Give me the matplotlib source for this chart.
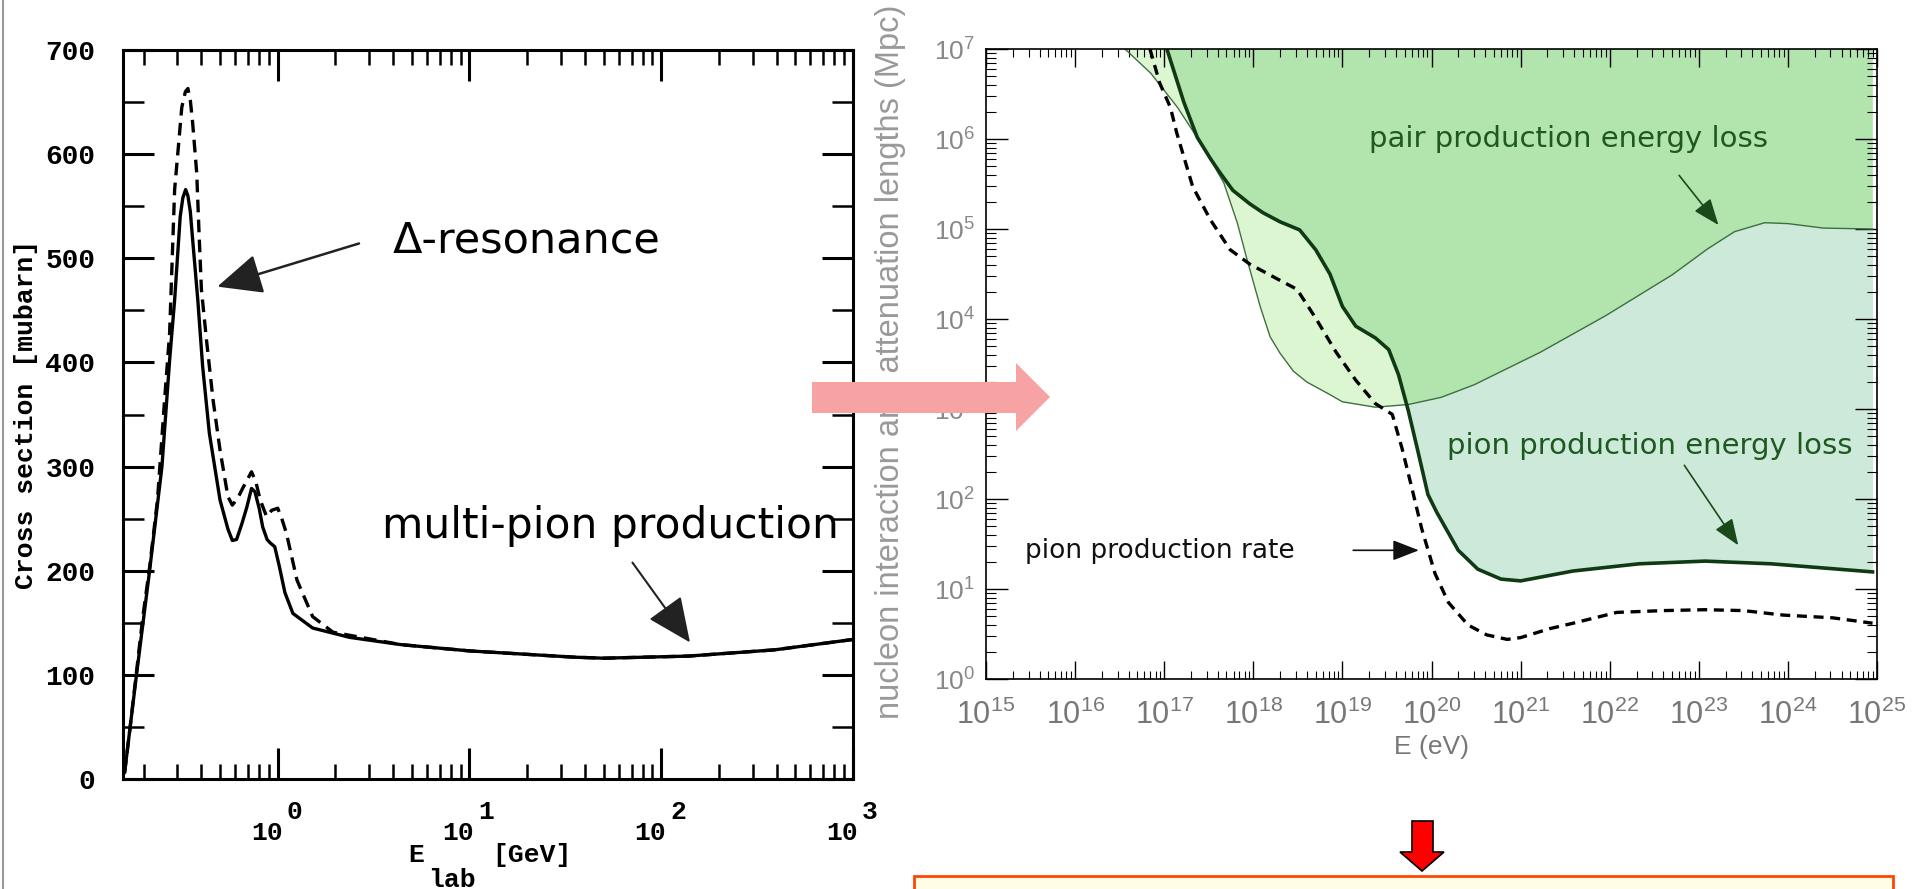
import numpy as np
import matplotlib
matplotlib.use("Agg")
import matplotlib.pyplot as plt
from matplotlib.ticker import FixedLocator, MultipleLocator, LogLocator, NullFormatter, FuncFormatter
from matplotlib.patches import Polygon, Rectangle, FancyArrowPatch
from matplotlib.transforms import blended_transform_factory, offset_copy
from matplotlib.lines import Line2D

plt.rcParams['mathtext.fontset'] = 'custom'
plt.rcParams['mathtext.rm'] = 'Liberation Sans'

# --- left panel: photo-pion cross section ---
solid_E = [0.159, 0.184, 0.215, 0.249, 0.273, 0.29, 0.31, 0.32, 0.331, 0.34, 0.35, 0.36, 0.383,
           0.406, 0.44, 0.50, 0.55, 0.58, 0.61, 0.65, 0.69, 0.73, 0.76, 0.80, 0.835,
           0.88, 0.91, 0.965, 1.02, 1.09, 1.2, 1.52, 2.37, 4.4, 10, 35, 50, 138, 390, 1000]
solid_sigma = [6, 102, 201, 300, 402, 460, 540, 558, 566, 560, 545, 518, 460,
               396, 332, 268, 240, 229, 230, 245, 261, 279, 276, 260, 242,
               230, 227, 223, 204, 179, 159, 145, 136, 129, 123, 117, 116, 118, 124, 134]

dashed_E = [0.159, 0.17, 0.198, 0.215, 0.236, 0.257, 0.273, 0.28, 0.29, 0.30, 0.316,
            0.33, 0.34, 0.35, 0.36, 0.378, 0.39, 0.40, 0.426, 0.46, 0.50, 0.55, 0.58, 0.62, 0.66,
            0.73, 0.77, 0.81, 0.875, 0.93, 1.0, 1.05, 1.11, 1.26, 1.52, 1.94, 2.37,
            4.4, 10, 35, 50, 138, 390, 1000]
dashed_sigma = [6, 50, 156, 204, 268, 364, 428, 486, 566, 597, 645,
                660, 663, 652, 630, 582, 518, 470, 420, 364, 316, 271, 263, 270, 280,
                295, 285, 268, 252, 258, 260, 250, 236, 191, 156, 141, 138,
                129, 123, 117, 116, 118, 124, 134]

left_yticks = [0, 100, 200, 300, 400, 500, 600, 700]
left_xticks = [1, 10, 100, 1000]
left_xexp = ['0', '1', '2', '3']

# --- right panel: attenuation lengths (log10 values) ---
pair_logE = [16.56, 16.85, 17.15, 17.44, 17.67, 17.82, 17.93, 18.08, 18.19, 18.30, 18.45,
             18.60, 18.86, 19.0, 19.37, 19.74, 20.11, 20.48, 21.22, 21.96, 22.70, 23.10,
             23.40, 23.74, 24.0, 24.4, 24.95]
pair_logL = [7.0, 6.73, 6.35, 5.91, 5.51, 5.07, 4.66, 4.13, 3.80, 3.62, 3.42,
             3.30, 3.16, 3.08, 3.02, 3.05, 3.13, 3.27, 3.63, 4.04, 4.49, 4.78,
             4.97, 5.07, 5.06, 5.01, 5.0]

pion_logE = [17.03, 17.22, 17.37, 17.52, 17.63, 17.77, 17.96, 18.11, 18.30, 18.52, 18.70,
             18.86, 19.0, 19.15, 19.37, 19.52, 19.63, 19.74, 19.85, 19.96, 20.06, 20.30,
             20.52, 20.78, 21.0, 21.59, 22.33, 23.07, 23.81, 24.95]
pion_logL = [7.0, 6.41, 6.02, 5.78, 5.62, 5.43, 5.28, 5.18, 5.08, 4.99, 4.77,
             4.50, 4.14, 3.92, 3.79, 3.66, 3.38, 2.98, 2.52, 2.05, 1.85, 1.43,
             1.22, 1.11, 1.09, 1.20, 1.28, 1.31, 1.28, 1.19]

rate_logE = [16.84, 16.95, 17.07, 17.14, 17.32, 17.52, 17.74, 17.96, 18.26, 18.49, 18.70,
             18.93, 19.15, 19.37, 19.56, 19.67, 19.78, 19.89, 20.04, 20.19, 20.41, 20.62,
             20.85, 21.0, 21.33, 21.59, 22.08, 22.6, 23.07, 23.5, 23.95, 24.5, 24.95]
rate_logL = [7.0, 6.62, 6.35, 6.07, 5.47, 5.10, 4.77, 4.61, 4.45, 4.33, 4.01,
             3.63, 3.32, 3.06, 2.94, 2.56, 2.12, 1.67, 1.17, 0.85, 0.60, 0.49,
             0.44, 0.46, 0.56, 0.62, 0.74, 0.76, 0.77, 0.76, 0.71, 0.68, 0.62]

W, H = 1917, 889
fig = plt.figure(figsize=(W / 100, H / 100), dpi=100)
fig.patch.set_facecolor('white')


def px_rect(x0, y0, x1, y1):
    return [x0 / W, 1 - y1 / H, (x1 - x0) / W, (y1 - y0) / H]


def arrow(ax, tail, head, color, lw, scale, hl=1.0, hw=0.45):
    ax.add_patch(FancyArrowPatch(tail, head, transform=ax.transData,
                                 arrowstyle='-|>,head_length=%g,head_width=%g' % (hl, hw),
                                 mutation_scale=scale, color=color, lw=lw, zorder=6))


mono = {'family': 'Liberation Mono', 'weight': 'bold'}

# ---------------- left panel ----------------
ax1 = fig.add_axes(px_rect(123, 50, 853, 779))
ax1.plot(solid_E, solid_sigma, color='black', lw=2.4, solid_capstyle='round')
ax1.plot(dashed_E, dashed_sigma, color='black', lw=2.4, ls=(0, (3.8, 2.2)))
ax1.set_xscale('log')
ax1.set_xlim(0.156, 1000)
ax1.set_ylim(0, 700)
ax1.yaxis.set_major_locator(FixedLocator(left_yticks))
ax1.yaxis.set_minor_locator(MultipleLocator(50))
ax1.xaxis.set_major_locator(FixedLocator(left_xticks))
ax1.xaxis.set_minor_locator(LogLocator(base=10, subs=np.arange(2, 10), numticks=20))
ax1.xaxis.set_major_formatter(NullFormatter())
ax1.xaxis.set_minor_formatter(NullFormatter())
for s in ax1.spines.values():
    s.set_linewidth(2.2)
ax1.tick_params(axis='y', which='major', direction='in', length=22, width=2.2,
                left=True, right=True, pad=20)
ax1.tick_params(axis='y', which='minor', direction='in', length=15, width=1.8,
                left=True, right=True)
ax1.tick_params(axis='x', which='major', direction='in', length=22, width=2.2,
                bottom=True, top=True)
ax1.tick_params(axis='x', which='minor', direction='in', length=11, width=1.8,
                bottom=True, top=True)
for lab in ax1.get_yticklabels():
    lab.set_fontfamily('Liberation Mono')
    lab.set_fontweight('bold')
    lab.set_fontsize(20)
ax1.set_ylabel('Cross section [mubarn]', fontdict=mono, fontsize=19, labelpad=5)

trans = blended_transform_factory(ax1.transData, ax1.transAxes)
for xv, ex in zip(left_xticks, left_xexp):
    ax1.text(xv, -0.074, '10', transform=offset_copy(trans, fig, x=-11, y=0, units='dots'),
             ha='center', va='center', fontdict=mono, fontsize=19)
    ax1.text(xv, -0.045, ex, transform=offset_copy(trans, fig, x=17, y=0, units='dots'),
             ha='center', va='center', fontdict=mono, fontsize=19)
fig.text(416 / W, 1 - 855 / H, 'E', fontdict=mono, fontsize=19, ha='center', va='center')
fig.text(532 / W, 1 - 855 / H, '[GeV]', fontdict=mono, fontsize=19, ha='center', va='center')
fig.text(452 / W, 1 - 880 / H, 'lab', fontdict=mono, fontsize=19, ha='center', va='center')

ax1.text(3.98, 517, '\u0394-resonance', fontsize=31, family='DejaVu Sans', va='center', ha='left')
arrow(ax1, (2.74, 515), (0.469, 472), '#222222', 1.8, 28)
ax1.text(3.49, 243, 'multi-pion production', fontsize=30.5, family='DejaVu Sans',
         va='center', ha='left')
arrow(ax1, (69.4, 210), (144, 129), '#222222', 1.5, 28)

# ---------------- right panel ----------------
ax2 = fig.add_axes(px_rect(986, 49, 1877, 679))
pE = 10 ** np.array(pair_logE)
pL = 10 ** np.array(pair_logL)
sE = 10 ** np.array(pion_logE)
sL = 10 ** np.array(pion_logL)
rE = 10 ** np.array(rate_logE)
rL = 10 ** np.array(rate_logL)

ax2.fill_between(pE, pL, 1e7, color='#ddf6d2', lw=0, zorder=1)
ax2.fill_between(sE, sL, 1e7, color='#cce9da', lw=0, zorder=1.1)
both = ax2.fill_between(pE, pL, 1e7, color='#b2e4ae', lw=0, zorder=1.2)
clip = ax2.fill_between(sE, sL, 1e7, color='none', lw=0)
both.set_clip_path(clip.get_paths()[0], ax2.transData)

ax2.plot(pE, pL, color='#3f6f3f', lw=1.0, zorder=3)
ax2.plot(sE, sL, color='#103a14', lw=2.6, zorder=3)
ax2.plot(rE, rL, color='black', lw=2.4, ls=(0, (3.0, 2.0)), zorder=3)

ax2.set_xscale('log')
ax2.set_yscale('log')
ax2.set_xlim(1e15, 1e25)
ax2.set_ylim(1, 1e7)
ax2.xaxis.set_major_locator(LogLocator(base=10, numticks=20))
ax2.yaxis.set_major_locator(LogLocator(base=10, numticks=20))
ax2.xaxis.set_minor_locator(LogLocator(base=10, subs=np.arange(2, 10), numticks=200))
ax2.yaxis.set_minor_locator(LogLocator(base=10, subs=np.arange(2, 10), numticks=200))
ax2.xaxis.set_minor_formatter(NullFormatter())
ax2.yaxis.set_minor_formatter(NullFormatter())
fmt = FuncFormatter(lambda v, p: r'$\mathrm{10}^{\mathrm{%d}}$' % round(np.log10(v)))
ax2.xaxis.set_major_formatter(fmt)
ax2.yaxis.set_major_formatter(fmt)
for s in ax2.spines.values():
    s.set_linewidth(1.2)
    s.set_zorder(5)
ax2.tick_params(axis='x', which='major', direction='in', length=13, width=1.0,
                top=True, bottom=True, labelsize=22, labelcolor='#777777', pad=14)
ax2.tick_params(axis='x', which='minor', direction='in', length=6, width=0.8,
                top=True, bottom=True)
ax2.tick_params(axis='y', which='major', direction='in', length=16, width=1.0,
                left=True, right=True, labelsize=19, labelcolor='#888888', pad=8)
ax2.tick_params(axis='y', which='minor', direction='in', length=7, width=0.8,
                left=True, right=True)
ax2.set_axisbelow(False)
ax2.set_xlabel('E (eV)', fontsize=19, color='#777777', family='Liberation Sans', labelpad=4)
fig.text(890 / W, 1 - 362 / H, 'nucleon interaction and attenuation lengths (Mpc)',
         rotation=90, ha='center', va='center', fontsize=23.5, color='#999999',
         family='Liberation Sans')

green_txt = '#1e5a20'
ax2.text(10 ** 19.30, 10 ** 6.0, 'pair production energy loss', fontsize=21,
         family='DejaVu Sans', color=green_txt, va='center', ha='left', zorder=6)
arrow(ax2, (10 ** 22.76, 10 ** 5.62), (10 ** 23.24, 10 ** 5.02), '#1a4a1a', 1.2, 18, 0.9, 0.35)
ax2.text(10 ** 20.17, 10 ** 2.59, 'pion production energy loss', fontsize=21,
         family='DejaVu Sans', color=green_txt, va='center', ha='left', zorder=6)
arrow(ax2, (10 ** 22.82, 10 ** 2.4), (10 ** 23.46, 10 ** 1.46), '#1a4a1a', 1.2, 18, 0.9, 0.35)
ax2.text(10 ** 15.44, 10 ** 1.42, 'pion production rate', fontsize=19,
         family='DejaVu Sans', color='#111111', va='center', ha='left', zorder=6)
arrow(ax2, (10 ** 19.09, 10 ** 1.43), (10 ** 19.89, 10 ** 1.43), '#111111', 1.2, 18, 0.9, 0.35)

# ---------------- slide decorations (pixel coordinates) ----------------
def px_pts(pts):
    return [(x / 100, (H - y) / 100) for x, y in pts]


pink = Polygon(px_pts([(812, 382), (1016, 382), (1016, 363), (1050, 397),
                       (1016, 431), (1016, 413), (812, 413)]),
               closed=True, transform=fig.dpi_scale_trans, facecolor='#f7a3a3',
               edgecolor='none', zorder=20)
fig.add_artist(pink)

red = Polygon(px_pts([(1412, 821), (1433, 821), (1433, 852), (1444, 852), (1422, 871),
                      (1400, 852), (1412, 852)]),
              closed=True, transform=fig.dpi_scale_trans, facecolor='#ff0000',
              edgecolor='black', lw=1.2, zorder=20)
fig.add_artist(red)

box = Rectangle((914 / 100, (H - 900) / 100), (1893 - 914) / 100, 24 / 100,
                transform=fig.dpi_scale_trans, facecolor='#fffde6',
                edgecolor='#ff4500', lw=2, zorder=20)
fig.add_artist(box)

fig.add_artist(Line2D([3 / W, 3 / W], [0, 1], transform=fig.transFigure,
                      color='#999999', lw=1.5))

fig.savefig('out.png', dpi=100)
